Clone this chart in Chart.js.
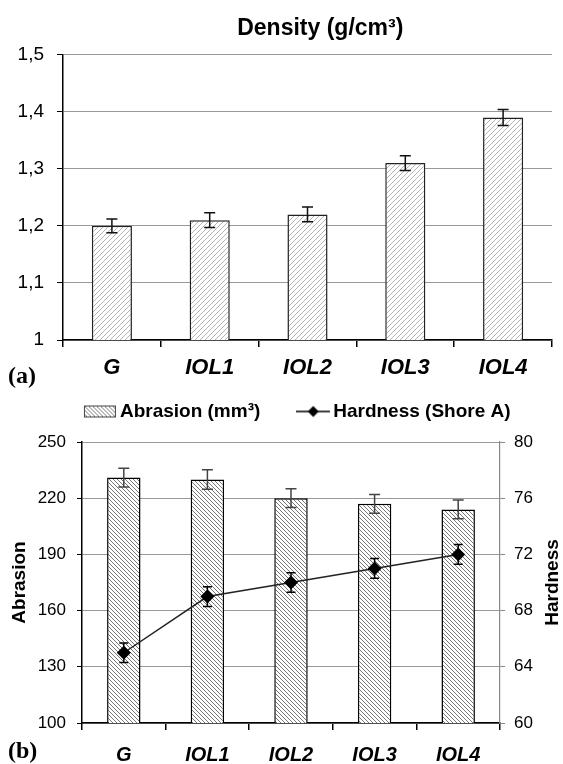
<!DOCTYPE html>
<html>
<head>
<meta charset="utf-8">
<script src="https://cdn.jsdelivr.net/npm/chart.js@4.4.0/dist/chart.umd.min.js"></script>
<style>
  html, body { margin: 0; background: #fff; overflow: hidden; }
  .box { position: absolute; left: 0; }
  .tag { position: absolute; font: bold 24px "Liberation Serif", serif; color: #000; }
</style>
</head>
<body>
<div class="box" style="top:0;width:563px;height:386px"><canvas id="densityChart"></canvas></div>
<div class="box" style="top:386px;width:600px;height:378px"><canvas id="abrasionChart"></canvas></div>
<div class="tag" style="left:8px;top:362px">(a)</div>
<div class="tag" style="left:8px;top:737px">(b)</div>
<script>
// data
const categories = ['G', 'IOL1', 'IOL2', 'IOL3', 'IOL4'];
const density = [1.20, 1.21, 1.22, 1.31, 1.39];
const densityErr = [0.012, 0.013, 0.013, 0.013, 0.014];
const densityTicks = ['1', '1,1', '1,2', '1,3', '1,4', '1,5'];

const abrasion = [231, 230, 220, 217, 214];
const abrasionErr = [5, 5.2, 5, 5, 5];
const hardness = [65, 69, 70, 71, 72];
const hardnessErr = [0.7, 0.7, 0.7, 0.7, 0.7];
const abrasionTicks = ['100', '130', '160', '190', '220', '250'];
const hardnessTicks = ['60', '64', '68', '72', '76', '80'];
const sideTitles = ['Abrasion', 'Hardness'];

Chart.defaults.font.family = '"Liberation Sans", Arial, sans-serif';
Chart.defaults.color = '#000';
Chart.defaults.animation = false;

// diagonal hatch fill, dir 1 = "/" , dir -1 = "\"
function hatch(ctx, size, color, lw, dir) {
  const c = document.createElement('canvas');
  c.width = c.height = size;
  const g = c.getContext('2d');
  g.fillStyle = '#fff';
  g.fillRect(0, 0, size, size);
  g.strokeStyle = color;
  g.lineWidth = lw;
  g.beginPath();
  if (dir > 0) {
    g.moveTo(-1, size + 1); g.lineTo(size + 1, -1);
    g.moveTo(-1, 1); g.lineTo(1, -1);
    g.moveTo(size - 1, size + 1); g.lineTo(size + 1, size - 1);
  } else {
    g.moveTo(-1, -1); g.lineTo(size + 1, size + 1);
    g.moveTo(size - 1, -1); g.lineTo(size + 1, 1);
    g.moveTo(-1, size - 1); g.lineTo(1, size + 1);
  }
  g.stroke();
  return ctx.createPattern(c, 'repeat');
}

// error bars drawn through the dataset's own y scale
const errorBars = {
  id: 'errorBars',
  afterDatasetsDraw(chart) {
    const ctx = chart.ctx;
    chart.data.datasets.forEach((ds, di) => {
      if (!ds.errors) return;
      const meta = chart.getDatasetMeta(di);
      const scale = chart.scales[meta.yAxisID];
      ctx.save();
      ctx.strokeStyle = ds.errorColor || '#000';
      ctx.lineWidth = 1.5;
      meta.data.forEach((el, i) => {
        const top = scale.getPixelForValue(ds.data[i] + ds.errors[i]);
        const bot = scale.getPixelForValue(ds.data[i] - ds.errors[i]);
        const w = ds.errorCap / 2;
        ctx.beginPath();
        ctx.moveTo(el.x, top); ctx.lineTo(el.x, bot);
        ctx.moveTo(el.x - w, top); ctx.lineTo(el.x + w, top);
        ctx.moveTo(el.x - w, bot); ctx.lineTo(el.x + w, bot);
        ctx.stroke();
      });
      ctx.restore();
    });
  }
};

// (a) density
const ctxA = document.getElementById('densityChart').getContext('2d');
const densityChart = new Chart(ctxA, {
  type: 'bar',
  data: {
    labels: categories,
    datasets: [{
      label: 'Density',
      data: density,
      errors: densityErr,
      errorCap: 11,
      errorColor: '#111',
      backgroundColor: hatch(ctxA, 5, '#b4b4b4', 1, 1),
      borderColor: '#222',
      borderWidth: 1.5,
      barPercentage: 0.41,
      categoryPercentage: 1
    }]
  },
  options: {
    responsive: true,
    maintainAspectRatio: false,
    layout: { padding: { left: 0, right: 11, top: 0, bottom: 0 } },
    plugins: {
      legend: { display: false },
      tooltip: { enabled: false },
      title: {
        display: true,
        text: '    Density (g/cm³)',
        fullSize: false,
        color: '#000',
        font: { size: 23, weight: 'bold' },
        padding: { top: 15, bottom: 12 }
      }
    },
    scales: {
      x: {
        grid: { drawOnChartArea: false, offset: true, tickLength: 7, color: '#000', lineWidth: 1.5 },
        border: { color: '#000', width: 1.5 },
        ticks: { color: '#000', padding: 8, font: { size: 22, weight: 'bold', style: 'italic' } },
        afterFit: s => { s.height = 46; }
      },
      y: {
        min: 1,
        max: 1.5,
        ticks: {
          stepSize: 0.1,
          padding: 13,
          color: '#000',
          font: { size: 19 },
          callback: (v, i) => densityTicks[i]
        },
        grid: { color: '#999', borderDash: [3, 3], tickColor: '#000', tickBorderDash: [], tickLength: 6, lineWidth: 1 },
        border: { color: '#000', width: 1.5 },
        afterFit: s => { s.width = 63; }
      }
    }
  },
  plugins: [errorBars]
});

// (b) abrasion + hardness
const ctxB = document.getElementById('abrasionChart').getContext('2d');

function legendBox() {
  const c = document.createElement('canvas');
  c.width = 34; c.height = 14;
  const g = c.getContext('2d');
  g.fillStyle = hatch(g, 4, '#777', 1, -1);
  g.fillRect(1, 1, 32, 12);
  g.strokeStyle = '#444';
  g.lineWidth = 1;
  g.strokeRect(1.5, 1.5, 31, 11);
  return c;
}
function legendLine() {
  const c = document.createElement('canvas');
  c.width = 34; c.height = 14;
  const g = c.getContext('2d');
  g.strokeStyle = '#000';
  g.lineWidth = 1.5;
  g.beginPath(); g.moveTo(0, 7); g.lineTo(34, 7); g.stroke();
  g.fillStyle = '#000';
  g.beginPath(); g.moveTo(17, 1.5); g.lineTo(22.5, 7); g.lineTo(17, 12.5); g.lineTo(11.5, 7); g.closePath(); g.fill();
  return c;
}
const legendIcons = [legendBox(), legendLine()];

// rotated axis titles on both sides, reading bottom to top
const sideTitlePlugin = {
  id: 'sideTitles',
  afterDraw(chart) {
    const ctx = chart.ctx;
    const yMid = (chart.chartArea.top + chart.chartArea.bottom) / 2;
    const xs = [20, chart.chartArea.right + 53];
    ctx.save();
    ctx.font = 'bold 19px "Liberation Sans", Arial, sans-serif';
    ctx.fillStyle = '#000';
    ctx.textAlign = 'center';
    ctx.textBaseline = 'middle';
    sideTitles.forEach((t, i) => {
      ctx.save();
      ctx.translate(xs[i], yMid);
      ctx.rotate(-Math.PI / 2);
      ctx.fillText(t, 0, 0);
      ctx.restore();
    });
    ctx.restore();
  }
};

const abrasionChart = new Chart(ctxB, {
  type: 'bar',
  data: {
    labels: categories,
    datasets: [{
      type: 'bar',
      label: 'Abrasion (mm³)     ',
      data: abrasion,
      errors: abrasionErr,
      errorCap: 11,
      errorColor: '#444',
      yAxisID: 'y',
      order: 2,
      backgroundColor: hatch(ctxB, 4, '#777', 1, -1),
      borderColor: '#000',
      borderWidth: 1.5,
      barPercentage: 0.4,
      categoryPercentage: 1
    }, {
      type: 'line',
      label: 'Hardness (Shore A)',
      data: hardness,
      errors: hardnessErr,
      errorCap: 9,
      errorColor: '#000',
      yAxisID: 'y1',
      order: 1,
      borderColor: '#222',
      borderWidth: 1.5,
      backgroundColor: '#000',
      pointStyle: 'rectRot',
      pointRadius: 7,
      pointBorderWidth: 0,
      tension: 0
    }]
  },
  options: {
    responsive: true,
    maintainAspectRatio: false,
    layout: { padding: 0 },
    plugins: {
      tooltip: { enabled: false },
      // empty title only adds the gap between legend and plot
      title: { display: true, text: '', font: { size: 10, lineHeight: 1 }, padding: { top: 0, bottom: 1 } },
      legend: {
        position: 'top',
        weight: 3000,
        labels: {
          usePointStyle: true,
          pointStyleWidth: 21,
          padding: 16,
          color: '#000',
          font: { size: 19, weight: 'bold' },
          generateLabels: chart => chart.data.datasets.map((ds, i) => ({
            text: ds.label,
            pointStyle: legendIcons[i],
            fillStyle: '#fff',
            strokeStyle: '#000',
            lineWidth: 0,
            datasetIndex: i,
            hidden: false
          }))
        }
      }
    },
    scales: {
      x: {
        grid: { drawOnChartArea: false, offset: true, tickLength: 7, color: '#000', lineWidth: 1.5 },
        border: { color: '#000', width: 1.5 },
        ticks: { color: '#000', padding: 13, font: { size: 20, weight: 'bold', style: 'italic' } },
        afterFit: s => { s.height = 41; }
      },
      y: {
        position: 'left',
        min: 100,
        max: 250,
        ticks: {
          stepSize: 30,
          padding: 11,
          color: '#000',
          font: { size: 17 },
          callback: (v, i) => abrasionTicks[i]
        },
        grid: { color: '#999', borderDash: [3, 3], tickColor: '#000', tickBorderDash: [], tickLength: 5, lineWidth: 1 },
        border: { color: '#000', width: 1.5 },
        afterFit: s => { s.width = 82; }
      },
      y1: {
        position: 'right',
        min: 60,
        max: 80,
        ticks: {
          stepSize: 4,
          padding: 9,
          color: '#000',
          font: { size: 17 },
          callback: (v, i) => hardnessTicks[i]
        },
        grid: { drawOnChartArea: false, tickColor: '#888', tickLength: 5 },
        border: { color: '#888', width: 1.2 },
        afterFit: s => { s.width = 100; }
      }
    }
  },
  plugins: [errorBars, sideTitlePlugin]
});
</script>
</body>
</html>
